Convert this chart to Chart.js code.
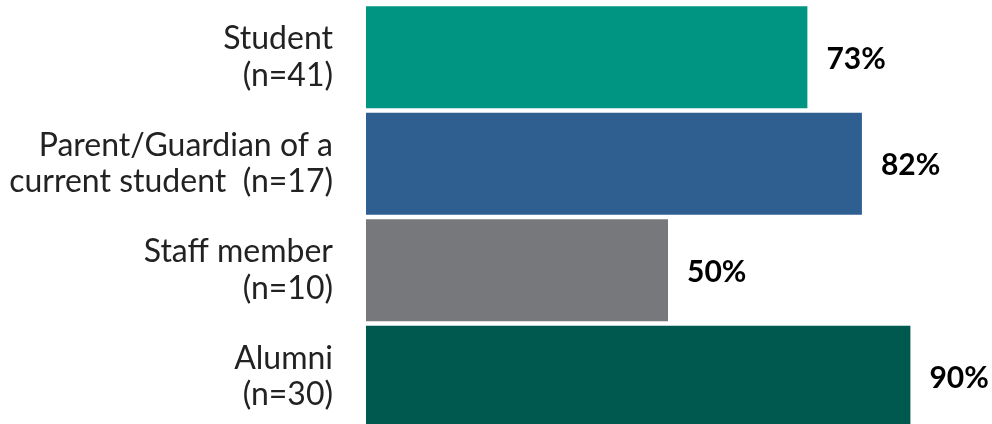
<!DOCTYPE html>
<html>
<head>
<meta charset="utf-8">
<script src="https://cdn.jsdelivr.net/npm/chart.js@4.4.0/dist/chart.umd.min.js"></script>
<style>
  html, body { margin: 0; padding: 0; background: #fff; overflow: hidden; }
  canvas { display: block; }
</style>
</head>
<body>
<canvas id="groupChart" width="992" height="430"></canvas>
<script>
// chart data
const groupLabels = [
    ['Student', '(n=41)'],
    ['Parent/Guardian of a', 'current student  (n=17)'],
    ['Staff member', '(n=10)'],
    ['Alumni', '(n=30)']
];
const groupValues = [73, 82, 50, 90];
const groupColors = ['#009482', '#2f5e91', '#77787b', '#00594f'];

// draws the bold percentage next to each bar
const valueLabels = {
    id: 'valueLabels',
    afterDatasetsDraw(chart) {
        const ctx = chart.ctx;
        const meta = chart.getDatasetMeta(0);
        ctx.save();
        ctx.font = 'bold 30px Lato';
        ctx.fillStyle = '#000';
        ctx.textBaseline = 'middle';
        ctx.textAlign = 'left';
        meta.data.forEach((bar, i) => {
            ctx.fillText(groupValues[i] + '%', bar.x + 18, bar.y + 2);
        });
        ctx.restore();
    }
};

const ctx = document.getElementById('groupChart').getContext('2d');
new Chart(ctx, {
    type: 'bar',
    data: {
        labels: groupLabels,
        datasets: [{
            data: groupValues,
            backgroundColor: groupColors,
            borderColor: 'rgba(255, 255, 255, 0.7)',
            borderWidth: 1,
            barPercentage: 0.975,
            categoryPercentage: 1
        }]
    },
    options: {
        indexAxis: 'y',
        responsive: false,
        animation: false,
        layout: { padding: { top: 4, right: 20, bottom: 0, left: 0 } },
        plugins: {
            legend: { display: false },
            tooltip: { enabled: false }
        },
        scales: {
            x: {
                min: 0,
                max: 100,
                display: false
            },
            y: {
                grid: { display: false },
                border: { display: false },
                afterFit(scale) {
                    scale.width = 366;
                    // labels sit inside their bands, no extra room needed
                    scale.paddingTop = 0;
                    scale.paddingBottom = 0;
                },
                ticks: {
                    color: '#222',
                    padding: 25,
                    font: { family: 'Lato', size: 32, lineHeight: 1.15 }
                }
            }
        }
    },
    plugins: [valueLabels]
});
</script>
</body>
</html>
